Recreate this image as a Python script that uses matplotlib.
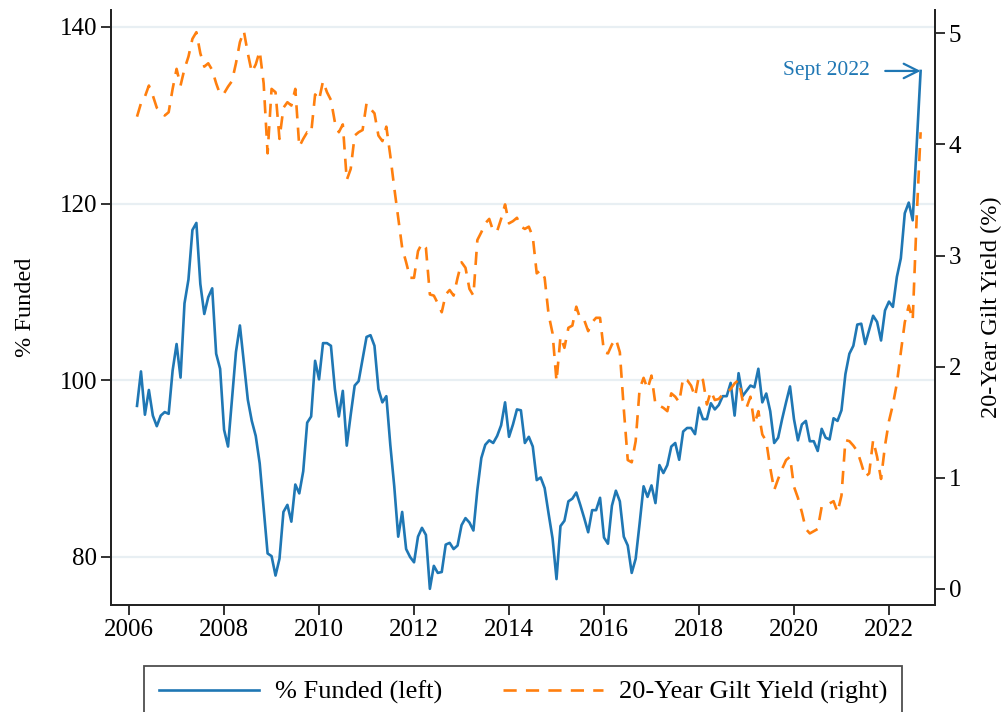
import numpy as np
import pandas as pd
import matplotlib
matplotlib.use("Agg")
import matplotlib.pyplot as plt

plt.rcParams['font.family'] = ['Liberation Serif', 'DejaVu Serif']

# Monthly data, March 2006 - September 2022
months = pd.date_range('2006-03-01', '2022-09-01', freq='MS')

funded = [
    97.1, 101.0, 96.1, 98.9, 96.0, 94.8, 96.0, 96.4, 96.2, 101.1,
    104.1, 100.3, 108.7, 111.4, 117.0, 117.8, 110.9, 107.5, 109.4, 110.4,
    103.0, 101.3, 94.4, 92.5, 97.8, 103.2, 106.2, 102.0, 97.8, 95.4,
    93.7, 90.6, 85.5, 80.4, 80.1, 77.9, 79.8, 85.1, 85.9, 84.0,
    88.2, 87.2, 89.7, 95.2, 95.9, 102.2, 100.1, 104.2, 104.2, 103.9,
    99.0, 95.9, 98.8, 92.6, 96.1, 99.4, 99.9, 102.4, 104.9, 105.1,
    103.9, 99.0, 97.5, 98.2, 92.7, 88.0, 82.3, 85.1, 80.9, 80.0,
    79.4, 82.3, 83.3, 82.5, 76.4, 79.0, 78.2, 78.3, 81.4, 81.6,
    80.9, 81.3, 83.6, 84.4, 83.9, 83.0, 87.6, 91.2, 92.7, 93.2,
    92.9, 93.7, 94.9, 97.5, 93.6, 95.0, 96.7, 96.6, 92.9, 93.6,
    92.5, 88.7, 89.0, 87.8, 84.9, 82.1, 77.5, 83.5, 84.1, 86.3,
    86.6, 87.3, 85.9, 84.4, 82.8, 85.3, 85.3, 86.7, 82.2, 81.5,
    85.8, 87.5, 86.3, 82.3, 81.3, 78.2, 79.8, 83.8, 88.0, 86.8,
    88.1, 86.1, 90.4, 89.5, 90.4, 92.5, 92.9, 91.0, 94.2, 94.6,
    94.6, 93.9, 96.9, 95.6, 95.6, 97.4, 96.7, 97.2, 98.2, 98.2,
    99.7, 96.0, 100.8, 98.2, 98.8, 99.4, 99.2, 101.3, 97.5, 98.5,
    96.5, 92.9, 93.5, 95.6, 97.5, 99.3, 95.6, 93.2, 95.0, 95.4,
    93.1, 93.1, 92.0, 94.5, 93.5, 93.3, 95.7, 95.4, 96.6, 100.7,
    103.0, 103.9, 106.3, 106.4, 104.1, 105.7, 107.3, 106.6, 104.5, 107.9,
    108.9, 108.3, 111.7, 113.8, 118.9, 120.1, 118.1, 126.5, 135.0,
]

gilt_20y = [
    4.25, 4.37, 4.43, 4.53, 4.44, 4.33, 4.30, 4.26, 4.29, 4.50,
    4.68, 4.53, 4.68, 4.79, 4.95, 5.01, 4.82, 4.70, 4.73, 4.67,
    4.55, 4.45, 4.46, 4.52, 4.57, 4.73, 4.92, 5.02, 4.82, 4.65,
    4.72, 4.84, 4.55, 3.92, 4.50, 4.47, 4.05, 4.33, 4.38, 4.35,
    4.50, 3.98, 4.05, 4.11, 4.10, 4.45, 4.40, 4.57, 4.47, 4.40,
    4.20, 4.11, 4.18, 3.68, 3.78, 4.08, 4.11, 4.13, 4.37, 4.32,
    4.28, 4.08, 4.03, 4.16, 3.90, 3.61, 3.34, 3.07, 2.94, 2.80,
    2.80, 3.04, 3.11, 3.07, 2.65, 2.64, 2.57, 2.49, 2.65, 2.69,
    2.64, 2.80, 2.94, 2.89, 2.70, 2.64, 3.14, 3.21, 3.29, 3.33,
    3.22, 3.22, 3.33, 3.46, 3.29, 3.31, 3.34, 3.26, 3.24, 3.26,
    3.17, 2.84, 2.87, 2.80, 2.47, 2.30, 1.87, 2.27, 2.17, 2.35,
    2.37, 2.54, 2.43, 2.42, 2.32, 2.40, 2.44, 2.44, 2.13, 2.12,
    2.20, 2.25, 2.13, 1.62, 1.16, 1.14, 1.33, 1.80, 1.90, 1.80,
    1.92, 1.66, 1.65, 1.63, 1.60, 1.76, 1.73, 1.68, 1.90, 1.88,
    1.83, 1.73, 1.92, 1.88, 1.66, 1.78, 1.70, 1.71, 1.75, 1.76,
    1.80, 1.85, 1.88, 1.70, 1.63, 1.73, 1.48, 1.60, 1.39, 1.33,
    1.09, 0.89, 0.99, 1.08, 1.16, 1.19, 0.92, 0.82, 0.69, 0.54,
    0.50, 0.52, 0.54, 0.74, 0.76, 0.77, 0.79, 0.69, 0.84, 1.34,
    1.33, 1.29, 1.24, 1.13, 1.01, 1.04, 1.34, 1.19, 0.99, 1.29,
    1.51, 1.66, 1.85, 2.13, 2.40, 2.55, 2.42, 3.34, 4.11,
]

left_ticks = [80, 100, 120, 140]
right_ticks = [0, 1, 2, 3, 4, 5]
year_ticks = [2006, 2008, 2010, 2012, 2014, 2016, 2018, 2020, 2022]

# decimal years for the x axis
x = months.year + (months.month - 1) / 12

blue = '#1f77b4'
orange = '#ff7f0e'

fig = plt.figure(figsize=(10.04, 7.12), dpi=100)
ax = fig.add_axes([0.1106, 0.1503, 0.8207, 0.8357])
ax2 = ax.twinx()

l1, = ax.plot(x, funded, color=blue, lw=1.9, label='% Funded (left)', zorder=3)
l2, = ax2.plot(x, gilt_20y, color=orange, lw=1.9, dashes=(5, 3.5),
               label='20-Year Gilt Yield (right)')

ax.set_xlim(2005.62, 2022.97)
ax.set_ylim(74.57, 141.9)
ax2.set_ylim(-0.144, 5.21)

ax.set_xticks(year_ticks)
ax.set_yticks(left_ticks)
ax2.set_yticks(right_ticks)

ax.grid(axis='y', color='#e8eff3', lw=1.6)
ax.set_axisbelow(True)

for a in (ax, ax2):
    a.spines['top'].set_visible(False)
    for s in a.spines.values():
        s.set_linewidth(1.3)
        s.set_color('#222222')
    a.tick_params(labelsize=18, length=7, width=1.3, color='#222222', pad=3)

ax.set_ylabel('% Funded', fontsize=17.5, labelpad=17)
ax2.set_ylabel('20-Year Gilt Yield (%)', fontsize=17.5, labelpad=14)

ax.annotate('Sept 2022', xy=(x[-1], funded[-1]), xytext=(2021.6, funded[-1]),
            color=blue, fontsize=15.5, ha='right', va='center',
            arrowprops=dict(arrowstyle='->', color=blue, lw=1.6,
                            mutation_scale=26, shrinkA=9, shrinkB=0))

leg = ax.legend(handles=[l1, l2], loc='upper center', bbox_to_anchor=(0.5, -0.1025),
                ncol=2, fontsize=19, frameon=True, fancybox=False,
                edgecolor='#222222', handlelength=3.8, handletextpad=0.6,
                columnspacing=2.3, borderpad=0.55, borderaxespad=0)
leg.get_frame().set_linewidth(1.3)

fig.savefig('out.png', dpi=100)
